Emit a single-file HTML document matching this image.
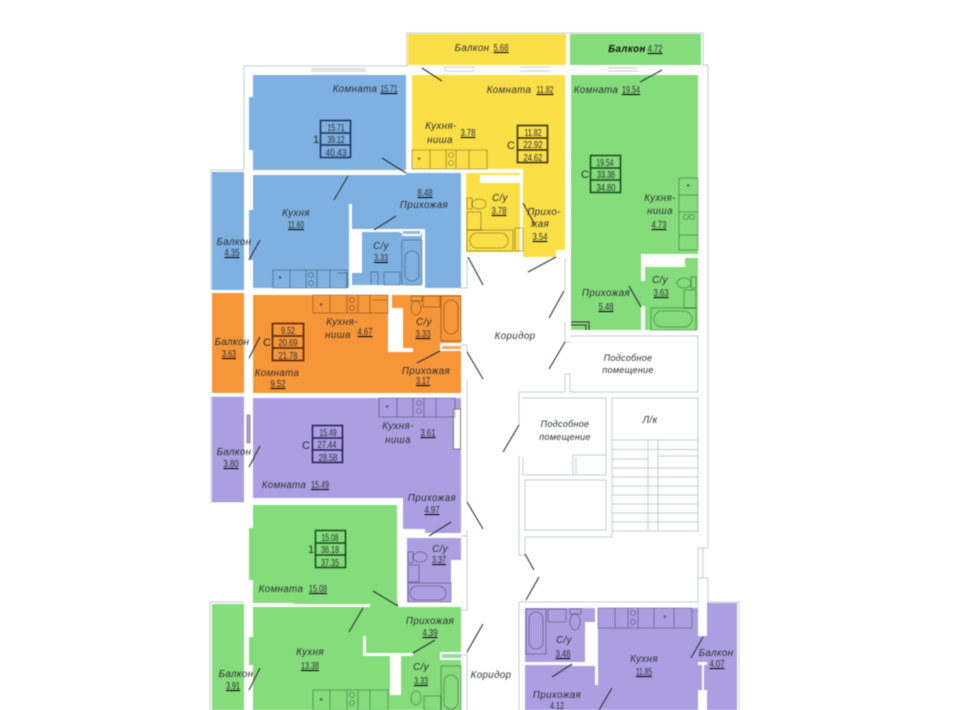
<!DOCTYPE html>
<html><head><meta charset="utf-8"><style>
html,body{margin:0;padding:0;background:#fff}
svg{display:block;filter:blur(.45px)}
text{font-family:"Liberation Sans","DejaVu Sans",sans-serif;fill:#2b2f33}
.l{font-size:9.7px;font-style:italic;letter-spacing:.4px;text-anchor:middle}
.s{font-size:9px;letter-spacing:.3px}
.n{font-size:10.5px;text-anchor:middle;text-decoration:underline}
.t{font-size:10.5px;text-anchor:middle}
.c{font-size:11px;text-anchor:middle}
.w{fill:#fff}
.d{stroke:#2e3338;stroke-width:1.1;fill:none}
.f{fill:none;stroke:#000;stroke-opacity:.38;stroke-width:.8}
.o{fill:none;stroke:#c6cbce;stroke-width:1}
.tb{fill:none;stroke-width:1.5}
</style></head><body>
<svg width="960" height="710" viewBox="0 0 960 710" xmlns="http://www.w3.org/2000/svg">
<rect width="960" height="710" fill="#fff"/>

<!-- outer outlines -->
<g class="o">
<path d="M210,710V602H244M211,502V397H244M211,502H244M211,290V170H244M244,170V66H407V33H703V65H708V548M708,578V636"/>
<path d="M698,548V578M703,548V578M698,548H708M698,578H708M698,578V636H708"/>
<path d="M519,602H698M708,602H739V710M519,602V710"/>
<path d="M461,288H467V258M461,345H467V352M467,380V502M467,530V536H461M467,536V610H461M467,652V710M461,655H467"/>
<path d="M565,258V291M565,322V342H570M565,374H570V392M565,374V392"/>
<path d="M570,336H698V392H570M565,392H519V425M519,456V555H525V537H612V398M522,398H606V475H523V457"/>
<path d="M573,475V455H606M576,475V457"/>
<rect x="525" y="480" width="81" height="50"/>
<path d="M612,398H698V531H612M612,440H698"/>
<path d="M612,449.500H698M612,459H648M658,456H698M612,468H698M612,477H698M612,486H698M612,495H698M612,504H698M612,513H698M612,522H698"/>
<rect x="648" y="440" width="10" height="91"/>
</g>

<!-- BLUE -->
<g fill="#7eb0e1">
<rect x="212" y="172" width="32" height="118"/>
<path d="M253,75H406V170H293V173H253Z"/>
<rect x="249" y="97" width="5" height="53"/>
<path d="M253,175H406V173H461V288H253Z"/>
<rect x="249" y="210" width="5" height="50"/>
</g>
<g class="w">
<rect x="293" y="170" width="84" height="4"/>
<rect x="253" y="170" width="40" height="5"/>
<rect x="349" y="204" width="3" height="84"/>
<rect x="349" y="229" width="76" height="3"/>
<rect x="352" y="285" width="72" height="3"/>
<rect x="422" y="230" width="3" height="58"/>
<rect x="253" y="288" width="208" height="6"/>
</g>
<rect x="352" y="232" width="70" height="53" fill="#7eb0e1"/>
<rect x="352" y="232" width="10" height="41" fill="#fff"/>
<rect x="400" y="230" width="22" height="3" fill="#fff"/><rect x="402" y="233" width="19" height="3" fill="#fff"/><rect x="403" y="231" width="17" height="3" fill="#9ab9d8"/>

<!-- YELLOW -->
<g fill="#fbdf46">
<rect x="408" y="34" width="158" height="31"/>
<path d="M412,75H565V250H556V257H523V172H412Z"/>
<rect x="466" y="173" width="54" height="79"/>
</g>
<rect x="480" y="175" width="40" height="8" fill="#fff"/>
<rect x="412" y="169" width="111" height="4" fill="#fff"/>
<rect x="463" y="173" width="3" height="84" fill="#fff"/>
<rect x="520" y="170" width="3" height="87" fill="#fff"/>
<rect x="463" y="252" width="60" height="5" fill="#fff"/>

<!-- GREEN top -->
<g fill="#84dc7b">
<rect x="570" y="34" width="131" height="31"/>
<rect x="571" y="75" width="127" height="255"/>
</g>
<rect x="641" y="254" width="58" height="78" fill="#fff"/>
<rect x="645" y="258" width="53" height="72" fill="#84dc7b"/>
<rect x="645" y="257" width="40" height="10" fill="#fff"/>
<rect x="641" y="281" width="4" height="25" fill="#84dc7b"/>

<!-- ORANGE -->
<g fill="#f79638">
<rect x="212" y="293" width="32" height="100"/>
<rect x="253" y="295" width="208" height="98"/>
</g>
<rect x="247" y="307" width="2" height="30" fill="#fff"/>
<g class="w">
<rect x="388" y="295" width="4" height="53"/>
<rect x="392" y="308" width="11" height="40"/>
<rect x="388" y="348" width="25" height="4"/>
</g>
<rect x="440" y="343" width="21" height="8" class="w"/>
<rect x="442" y="346" width="19" height="3" fill="#f2a860"/>

<!-- PURPLE -->
<g fill="#ab9fe1">
<rect x="212" y="397" width="32" height="105"/>
<path d="M253,398H461V533H403V498H253Z"/>
<path d="M407,538H461V560H451V602H407Z"/>
</g>
<rect x="247" y="415" width="3" height="28" fill="#ab9fe1" stroke="#777" stroke-width=".7"/>
<rect x="453.500" y="409" width="7" height="40" fill="#fff" stroke="#666" stroke-width=".8"/>
<rect x="403" y="529" width="22" height="5" fill="#fff"/>
<rect x="403" y="533" width="4" height="70" fill="#fff"/>

<!-- GREEN lower -->
<g fill="#84dc7b">
<rect x="253" y="505" width="144" height="99"/>
<rect x="249" y="528" width="5" height="52"/>
<rect x="212" y="604" width="32" height="106"/>
<rect x="253" y="607" width="208" height="103"/>
<rect x="370" y="603" width="28" height="5"/>
<rect x="249" y="637" width="5" height="28"/>
</g>
<g class="w">
<rect x="293" y="604" width="77" height="3"/>
<rect x="253" y="603" width="40" height="4"/>
<rect x="363" y="636" width="3" height="19"/>
<rect x="363" y="653" width="50" height="3"/>
<rect x="390" y="655" width="11" height="40"/>
</g>
<rect x="440" y="652" width="21" height="8" class="w"/>
<rect x="442" y="654" width="19" height="4" fill="#9ad89a"/>

<!-- PURPLE lower -->
<g fill="#ab9fe1">
<rect x="525" y="608" width="70" height="54"/>
<rect x="598" y="608" width="100" height="102"/>
<rect x="525" y="665" width="185" height="45"/>
<rect x="595" y="685" width="5" height="25"/>
<rect x="707" y="603" width="30" height="107"/>
<rect x="698" y="636" width="9" height="26"/>
</g>
<g class="w">
<rect x="585" y="622" width="10" height="40"/>
<rect x="595" y="608" width="3" height="77"/>
<rect x="525" y="662" width="48" height="3"/>
<rect x="572" y="663" width="26" height="3"/>
<rect x="702" y="662" width="2" height="28"/>
<rect x="698" y="690" width="9" height="20"/>
<rect x="698" y="603" width="9" height="33"/>
</g>

<!-- windows top -->
<g>
<path d="M311,69H366M311,71H366" class="o"/>
<rect x="445" y="67" width="29" height="4" fill="#fff" stroke="#b9bfc2" stroke-width=".7"/>
<path d="M520,67H550M520,71H550M608,68H638M608,71H638" class="o"/>
<rect x="474" y="66" width="46" height="9" class="w"/>
<rect x="551" y="66" width="57" height="9" class="w"/>
<rect x="662" y="65" width="37" height="10" class="w"/>
</g>

<!-- fixtures -->
<g class="f">
<path d="M273,270H347V288H273ZM290,270V288M306,270V288M317,270V288M330,270V288"/>
<circle cx="311" cy="275" r="2.500"/><circle cx="311" cy="283" r="2.500"/><path d="M337,273H347V288"/>
<path d="M313,295H388V313H313ZM330,295V313M347,295V313M358,295V313M370,295V313M373,300H388"/>
<circle cx="352" cy="300" r="2.500"/><circle cx="352" cy="308" r="2.500"/>
<path d="M379,398H455V417H379ZM397,398V417M413,398V417M424,398V417M436,398V417"/>
<circle cx="419" cy="403" r="2.500"/><circle cx="419" cy="411" r="2.500"/>
<path d="M412,150H487V169H412ZM430,150V169M446,150V169M456,150V169M469,150V169"/>
<circle cx="451" cy="155" r="2.500"/><circle cx="451" cy="163" r="2.500"/>
<path d="M313,690H388V710H313ZM330,690V710M347,690V710M358,690V710M370,690V710"/>
<circle cx="352" cy="695" r="2.500"/><circle cx="352" cy="703" r="2.500"/>
<path d="M598,608H692V628H598ZM615,608V628M628,608V628M638,608V628M654,608V628M674,608V628"/>
<circle cx="633" cy="613" r="2.500"/><circle cx="633" cy="622" r="2.500"/>
<path d="M679,178H698V250H679ZM679,195H698M679,212H698M679,235H698"/>
<circle cx="686" cy="217" r="2.500"/><circle cx="692" cy="217" r="2.500"/>
<rect x="402" y="240" width="20" height="45" rx="2"/><rect x="405" y="251" width="14" height="30" rx="7"/>
<rect x="384" y="272" width="16" height="13"/><path d="M371,285V272H378V285"/>
<rect x="467" y="230" width="46" height="21"/><rect x="470" y="233" width="38" height="15" rx="7"/>
<rect x="515" y="228" width="8" height="23"/><rect x="467" y="212" width="14" height="18"/><rect x="467" y="198" width="5" height="11"/><ellipse cx="479" cy="204" rx="7" ry="5"/>
<rect x="651" y="308" width="45" height="22"/><rect x="654" y="311" width="38" height="16" rx="8"/>
<rect x="684" y="290" width="12" height="18"/><ellipse cx="684" cy="283" rx="7" ry="5"/><rect x="691" y="277" width="5" height="11"/>
<rect x="441" y="296" width="20" height="45"/><rect x="444" y="300" width="14" height="34" rx="7"/>
<rect x="423" y="296" width="17" height="11"/><ellipse cx="416" cy="308" rx="5" ry="7"/><rect x="411" y="296" width="11" height="5"/>
<rect x="408" y="583" width="43" height="19"/><rect x="410" y="586" width="36" height="14" rx="7"/>
<rect x="408" y="565" width="11" height="17"/><ellipse cx="420" cy="557" rx="7" ry="5"/><rect x="408" y="552" width="5" height="11"/>
<rect x="441" y="666" width="20" height="44"/><rect x="444" y="675" width="14" height="34" rx="7"/>
<rect x="424" y="696" width="17" height="14"/><ellipse cx="416" cy="698" rx="5" ry="7"/>
<rect x="526" y="609" width="20" height="45"/><rect x="529" y="612" width="14" height="37" rx="7"/>
<rect x="548" y="609" width="18" height="13"/><ellipse cx="575" cy="622" rx="5" ry="8"/><rect x="570" y="609" width="11" height="5"/>
</g>
<path d="M571,322H589V330M571,325H586V330" fill="none" stroke="#333" stroke-width="1"/>

<!-- stars -->
<g style="font-size:8px;text-anchor:middle"><text x="280" y="282">*</text><text x="321" y="309">*</text><text x="387" y="411">*</text><text x="419" y="163">*</text><text x="321" y="704">*</text><text x="665" y="621">*</text><text x="688" y="190">*</text></g>

<!-- doors -->
<g class="d">
<path d="M422,68L442,81M640,82L662,70M468,257L483,285M528,272L556,257M549,318L564,291M523,203L534,223M629,286L641,307M382,158L406,173M348,176L334,200M396,216L374,230M260,240L249,260M260,337L249,358M440,351L417,363M467,352L483,379M260,446L249,467M467,502L483,529M451,522L429,536M565,342L549,369M519,425L503,452M525,554L534,570M539,577L526,600M373,591L398,606M363,608L349,632M435,640L413,653M483,624L467,652M260,668L249,690M572,664L552,677M612,688L599,710M703,637L691,658"/>
</g>

<!-- tables -->
<g class="tb" stroke="#16305e"><rect x="320.500" y="120.500" width="30" height="37"/><path d="M320,133H351M320,145H351"/></g>
<g class="tb" stroke="#2e2a05"><rect x="517.500" y="125.500" width="30" height="37"/><path d="M517,138H548M517,150H548"/></g>
<g class="tb" stroke="#0e4a1a"><rect x="590.500" y="155.500" width="30" height="37"/><path d="M590,168H621M590,180H621"/></g>
<g class="tb" stroke="#4a1f05"><rect x="272.500" y="323.500" width="31" height="37"/><path d="M272,336H304M272,348H304"/></g>
<g class="tb" stroke="#221a58"><rect x="312.500" y="425.500" width="30" height="37"/><path d="M312,438H343M312,450H343"/></g>
<g class="tb" stroke="#0e4a1a"><rect x="315.500" y="530.500" width="30" height="37"/><path d="M315,543H346M315,555H346"/></g>

<g class="t">
<text x="336" y="131" textLength="17" lengthAdjust="spacingAndGlyphs">15.71</text><text x="336" y="143" textLength="17" lengthAdjust="spacingAndGlyphs">39.12</text><text x="336" y="156" textLength="21" lengthAdjust="spacingAndGlyphs">40.43</text>
<text x="533" y="136" textLength="17" lengthAdjust="spacingAndGlyphs">11.82</text><text x="533" y="148" textLength="19" lengthAdjust="spacingAndGlyphs">22.92</text><text x="533" y="161" textLength="19" lengthAdjust="spacingAndGlyphs">24.62</text>
<text x="605" y="166" textLength="17" lengthAdjust="spacingAndGlyphs">19.54</text><text x="606" y="178" textLength="18" lengthAdjust="spacingAndGlyphs">33.38</text><text x="606" y="191" textLength="19" lengthAdjust="spacingAndGlyphs">34.80</text>
<text x="288" y="334" textLength="14" lengthAdjust="spacingAndGlyphs">9.52</text><text x="288" y="346" textLength="19" lengthAdjust="spacingAndGlyphs">20.69</text><text x="288" y="359" textLength="19" lengthAdjust="spacingAndGlyphs">21.78</text>
<text x="328" y="436" textLength="17" lengthAdjust="spacingAndGlyphs">15.49</text><text x="327" y="448" textLength="19" lengthAdjust="spacingAndGlyphs">27.44</text><text x="328" y="461" textLength="19" lengthAdjust="spacingAndGlyphs">28.58</text>
<text x="330" y="541" textLength="17" lengthAdjust="spacingAndGlyphs">15.08</text><text x="330" y="553" textLength="18" lengthAdjust="spacingAndGlyphs">36.18</text><text x="330" y="566" textLength="18" lengthAdjust="spacingAndGlyphs">37.35</text>
</g>
<g class="c"><text x="316" y="143">1</text><text x="511" y="149">C</text><text x="585" y="178">C</text><text x="267" y="346">C</text><text x="306" y="449">C</text><text x="311" y="553">1</text></g>

<!-- labels -->
<g class="l">
<text x="355" y="92">Комната</text>
<text x="296" y="216">Кухня</text>
<text x="424" y="208">Прихожая</text>
<text x="381" y="249">С/у</text>
<text x="234" y="245">Балкон</text>
<text x="472" y="51">Балкон</text>
<text x="627" y="52" style="font-weight:bold;fill:#111">Балкон</text>
<text x="509" y="93">Комната</text>
<text x="596" y="93">Комната</text>
<text x="441" y="129">Кухня-</text>
<text x="440" y="143">ниша</text>
<text x="500" y="201">С/у</text>
<text x="544" y="215">Прихо-</text>
<text x="540" y="227">жая</text>
<text x="660" y="201">Кухня-</text>
<text x="660" y="214">ниша</text>
<text x="606" y="296">Прихожая</text>
<text x="660" y="283">С/у</text>
<text x="342" y="325">Кухня-</text>
<text x="338" y="338">ниша</text>
<text x="424" y="325">С/у</text>
<text x="232" y="345">Балкон</text>
<text x="277" y="376">Комната</text>
<text x="426" y="374">Прихожая</text>
<text x="398" y="429">Кухня-</text>
<text x="398" y="443">ниша</text>
<text x="234" y="455">Балкон</text>
<text x="284" y="488">Комната</text>
<text x="432" y="501">Прихожая</text>
<text x="440" y="552">С/у</text>
<text x="281" y="592">Комната</text>
<text x="430" y="624">Прихожая</text>
<text x="310" y="655">Кухня</text>
<text x="421" y="670">С/у</text>
<text x="236" y="677">Балкон</text>
<text x="515" y="339">Коридор</text>
<text class="s" x="628" y="361">Подсобное</text>
<text class="s" x="628" y="373">помещение</text>
<text class="s" x="565" y="427">Подсобное</text>
<text class="s" x="565" y="440">помещение</text>
<text x="650" y="423">Л/к</text>
<text x="491" y="678">Коридор</text>
<text x="564" y="643">С/у</text>
<text x="644" y="662">Кухня</text>
<text x="557" y="698">Прихожая</text>
<text x="716" y="656">Балкон</text>
</g>
<g class="n">
<text x="389" y="92" textLength="17" lengthAdjust="spacingAndGlyphs">15.71</text>
<text x="296" y="228" textLength="16" lengthAdjust="spacingAndGlyphs">11.60</text>
<text x="425" y="196" textLength="15" lengthAdjust="spacingAndGlyphs">8.48</text>
<text x="381" y="261" textLength="14" lengthAdjust="spacingAndGlyphs">3.33</text>
<text x="232" y="256" textLength="15" lengthAdjust="spacingAndGlyphs">4.35</text>
<text x="501" y="51" textLength="15" lengthAdjust="spacingAndGlyphs">5.68</text>
<text x="655" y="52" textLength="15" lengthAdjust="spacingAndGlyphs">4.72</text>
<text x="545" y="93" textLength="17" lengthAdjust="spacingAndGlyphs">11.82</text>
<text x="631" y="93" textLength="18" lengthAdjust="spacingAndGlyphs">19.54</text>
<text x="468" y="136" textLength="15" lengthAdjust="spacingAndGlyphs">3.78</text>
<text x="499" y="214" textLength="15" lengthAdjust="spacingAndGlyphs">3.78</text>
<text x="540" y="240" textLength="15" lengthAdjust="spacingAndGlyphs">3.54</text>
<text x="659" y="228" textLength="15" lengthAdjust="spacingAndGlyphs">4.73</text>
<text x="606" y="310" textLength="15" lengthAdjust="spacingAndGlyphs">5.48</text>
<text x="661" y="296" textLength="15" lengthAdjust="spacingAndGlyphs">3.63</text>
<text x="365" y="335" textLength="15" lengthAdjust="spacingAndGlyphs">4.67</text>
<text x="423" y="337" textLength="15" lengthAdjust="spacingAndGlyphs">3.33</text>
<text x="229" y="357" textLength="14" lengthAdjust="spacingAndGlyphs">3.63</text>
<text x="278" y="387" textLength="15" lengthAdjust="spacingAndGlyphs">9.52</text>
<text x="423" y="384" textLength="14" lengthAdjust="spacingAndGlyphs">3.17</text>
<text x="428" y="436" textLength="15" lengthAdjust="spacingAndGlyphs">3.61</text>
<text x="231" y="467" textLength="15" lengthAdjust="spacingAndGlyphs">3.80</text>
<text x="320" y="488" textLength="18" lengthAdjust="spacingAndGlyphs">15.49</text>
<text x="432" y="513" textLength="15" lengthAdjust="spacingAndGlyphs">4.97</text>
<text x="439" y="563" textLength="14" lengthAdjust="spacingAndGlyphs">3.37</text>
<text x="318" y="592" textLength="18" lengthAdjust="spacingAndGlyphs">15.08</text>
<text x="430" y="636" textLength="15" lengthAdjust="spacingAndGlyphs">4.39</text>
<text x="310" y="669" textLength="18" lengthAdjust="spacingAndGlyphs">13.38</text>
<text x="421" y="684" textLength="14" lengthAdjust="spacingAndGlyphs">3.33</text>
<text x="233" y="689" textLength="14" lengthAdjust="spacingAndGlyphs">3.91</text>
<text x="563" y="657" textLength="15" lengthAdjust="spacingAndGlyphs">3.48</text>
<text x="644" y="675" textLength="16" lengthAdjust="spacingAndGlyphs">11.85</text>
<text x="717" y="667" textLength="15" lengthAdjust="spacingAndGlyphs">4.07</text>
<text x="557" y="709" textLength="14" lengthAdjust="spacingAndGlyphs">4.12</text>
</g>
</svg>
</body></html>
